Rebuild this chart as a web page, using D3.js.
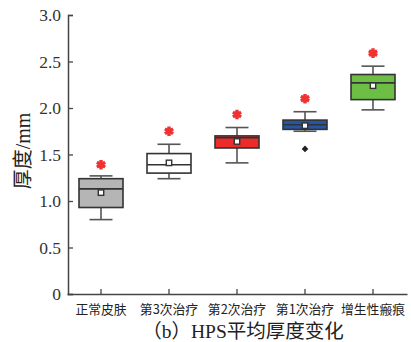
<!DOCTYPE html>
<html>
<head>
<meta charset="utf-8">
<script src="https://cdn.jsdelivr.net/npm/d3@7"></script>
<style>
  body { margin: 0; background: #fff; }
  text { font-family: "Liberation Serif", "Noto Sans CJK SC", serif; }
</style>
</head>
<body>
<script>
// categories and box stats
var groups = ["正常皮肤", "第3次治疗", "第2次治疗", "第1次治疗", "增生性瘢痕"];
var whiskerLow  = [0.80, 1.24, 1.41, 1.75, 1.98];
var q1          = [0.93, 1.30, 1.57, 1.77, 2.09];
var median      = [1.13, 1.39, 1.68, 1.82, 2.27];
var q3          = [1.24, 1.51, 1.70, 1.87, 2.36];
var whiskerHigh = [1.27, 1.61, 1.79, 1.96, 2.45];
var means       = [1.09, 1.41, 1.64, 1.81, 2.24];
var stars       = [1.39, 1.75, 1.93, 2.10, 2.59];
var outliers    = [[], [], [], [1.56], []];
var fills       = ["#b5b5b5", "#ffffff", "#ee2b2b", "#2456a6", "#6cbf44"];
var yTicks      = [0, 0.5, 1.0, 1.5, 2.0, 2.5, 3.0];

var width = 411, height = 342;
var svg = d3.select("body").append("svg")
    .attr("width", width)
    .attr("height", height);

var x = d3.scaleBand().domain(groups).range([67, 407]);
var y = d3.scaleLinear().domain([0, 3]).range([294, 15]);

var axisColor = "#444";

// y axis (ticks point inward)
var yAxis = svg.append("g")
    .attr("transform", "translate(68,0)")
    .call(d3.axisLeft(y).tickValues(yTicks).tickSize(-5).tickPadding(7)
      .tickFormat(function(d) { return d === 0 ? "0" : d3.format(".1f")(d); }));
yAxis.select(".domain").attr("stroke", axisColor).attr("stroke-width", 1.5);
yAxis.selectAll(".tick line").attr("stroke", axisColor).attr("stroke-width", 1.3);
yAxis.selectAll("text")
    .attr("fill", "#333")
    .style("font-size", "17.5px");

// x axis (ticks point up)
var xAxis = svg.append("g")
    .attr("transform", "translate(0,294)")
    .call(d3.axisBottom(x).tickSize(-5).tickPadding(11).tickSizeOuter(0));
xAxis.select(".domain").attr("stroke", axisColor).attr("stroke-width", 1.5);
xAxis.selectAll(".tick line").attr("stroke", axisColor).attr("stroke-width", 1.3);
xAxis.selectAll("text")
    .attr("fill", "#222")
    .style("font-family", "'Noto Sans CJK SC', sans-serif")
    .style("font-size", "12.8px");

// boxes
var boxW = 44, capW = 23;
var g = svg.selectAll(".box")
    .data(groups)
    .enter().append("g")
    .attr("class", "box")
    .attr("transform", function(d) { return "translate(" + (x(d) + x.bandwidth() / 2) + ",0)"; });

g.append("line") // whisker
    .attr("x1", 0).attr("x2", 0)
    .attr("y1", function(d, i) { return y(whiskerLow[i]); })
    .attr("y2", function(d, i) { return y(whiskerHigh[i]); })
    .attr("stroke", "#555").attr("stroke-width", 1.6);
g.append("line")
    .attr("x1", -capW / 2).attr("x2", capW / 2)
    .attr("y1", function(d, i) { return y(whiskerLow[i]); })
    .attr("y2", function(d, i) { return y(whiskerLow[i]); })
    .attr("stroke", "#555").attr("stroke-width", 1.6);
g.append("line")
    .attr("x1", -capW / 2).attr("x2", capW / 2)
    .attr("y1", function(d, i) { return y(whiskerHigh[i]); })
    .attr("y2", function(d, i) { return y(whiskerHigh[i]); })
    .attr("stroke", "#555").attr("stroke-width", 1.6);
g.append("rect")
    .attr("x", -boxW / 2).attr("width", boxW)
    .attr("y", function(d, i) { return y(q3[i]); })
    .attr("height", function(d, i) { return y(q1[i]) - y(q3[i]); })
    .attr("fill", function(d, i) { return fills[i]; })
    .attr("stroke", "#333").attr("stroke-width", 1.6);
g.append("line") // median
    .attr("x1", -boxW / 2).attr("x2", boxW / 2)
    .attr("y1", function(d, i) { return y(median[i]); })
    .attr("y2", function(d, i) { return y(median[i]); })
    .attr("stroke", "#333").attr("stroke-width", 1.6);
g.append("rect") // mean
    .attr("x", -2.7).attr("width", 5.4)
    .attr("y", function(d, i) { return y(means[i]) - 2.7; })
    .attr("height", 5.4)
    .attr("fill", "#fff").attr("stroke", "#333").attr("stroke-width", 1.4);

// red significance stars
g.append("path")
    .attr("d", d3.symbol(d3.symbolAsterisk, 64))
    .attr("transform", function(d, i) { return "translate(0," + y(stars[i]) + ")"; })
    .attr("stroke", "#f03232").attr("stroke-width", 3.4).attr("fill", "none");
g.append("circle")
    .attr("cy", function(d, i) { return y(stars[i]); })
    .attr("r", 3).attr("fill", "#f03232");

// outliers
g.selectAll(".out")
    .data(function(d, i) { return outliers[i]; })
    .enter().append("path")
    .attr("d", d3.symbol(d3.symbolDiamond2, 28))
    .attr("transform", function(v) { return "translate(0," + y(v) + ")"; })
    .attr("fill", "#222");

// y label
svg.append("text")
    .attr("transform", "translate(30,151) rotate(-90)")
    .attr("text-anchor", "middle")
    .attr("fill", "#222")
    .style("font-size", "20px")
    .text("厚度/mm");

// caption
svg.append("text")
    .attr("x", 243).attr("y", 338)
    .attr("text-anchor", "middle")
    .attr("fill", "#222")
    .style("font-size", "19.5px")
    .text("（b）HPS平均厚度变化");
</script>
</body>
</html>
